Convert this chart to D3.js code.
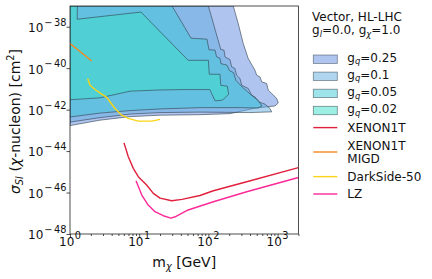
<!DOCTYPE html>
<html>
<head>
<meta charset="utf-8">
<script src="https://cdn.jsdelivr.net/npm/d3@7"></script>
<style>
  body { margin: 0; background: #fff; }
  svg { display: block; font-family: "DejaVu Sans", sans-serif; }
</style>
</head>
<body>
<div id="wrapper"></div>
<script>
// excluded regions, [mass GeV, sigma cm^2], traced clockwise
const gq025 = [[1, 1e-37], [229, 1e-37], [270, 1.43e-38], [319, 1.55e-39], [377, 2.9e-40],
  [471, 8.0e-41], [499, 4.6e-41], [557, 3.8e-41], [589, 2.2e-41], [695, 1.83e-41],
  [734, 8.7e-42], [822, 6.0e-42], [971, 3.5e-42], [1024, 2.1e-42], [917, 1.5e-42],
  [471, 1.18e-42], [205, 6.4e-43], [75.6, 5.7e-43], [20, 5.4e-43], [7.4, 4.6e-43],
  [2.7, 3.1e-43], [1, 1.7e-43]];
const gq01 = [[1, 1e-37], [100, 1e-37], [120, 1.18e-38], [151, 8.0e-40], [168, 7.4e-40],
  [174, 3.5e-40], [205, 2.6e-40], [217, 1.16e-40], [242, 9.7e-41], [256, 4.6e-41],
  [286, 3.2e-41], [303, 1.5e-41], [377, 1.05e-41], [423, 5.0e-42], [471, 4.1e-42],
  [526, 2.4e-42], [658, 1.84e-42], [777, 1.14e-42], [822, 7.8e-43], [399, 7.2e-43],
  [75.6, 7.6e-43], [20, 7.2e-43], [7.4, 6.1e-43], [2.7, 4.1e-43], [1, 2.5e-43]];
const gq005 = [[1, 1e-37], [29.8, 1e-37], [44.4, 1.06e-38], [56, 2.8e-39], [95.5, 2.5e-39],
  [102, 7.8e-40], [125, 7.4e-40], [131, 3.6e-40], [147, 3.0e-40], [152, 1.65e-40],
  [186, 1.4e-40], [202, 7.6e-41], [231, 6.1e-41], [250, 2.6e-41], [311, 1.2e-41],
  [434, 4.5e-42], [521, 2.9e-42], [595, 1.5e-42], [521, 1.2e-42], [286, 1.25e-42],
  [75.6, 1.25e-42], [20, 1.08e-42], [7.4, 9e-43], [2.7, 6.8e-43], [1, 4.4e-43]];
const gq002 = [[1, 1e-37], [1.28, 1e-37], [1.27, 2.3e-38], [10.6, 5.1e-38], [51, 2.4e-40],
  [100, 2.4e-40], [103, 5.1e-41], [147, 5.1e-41], [151, 1.5e-41], [188, 1.35e-41],
  [196, 5.6e-42], [161, 2.9e-42], [125, 2.65e-42], [105, 9.3e-42], [46, 9.3e-42],
  [20, 8.9e-42], [7.4, 7.8e-42], [2.7, 3.7e-42], [1, 3.0e-42]];

// direct detection limits
const xenonMass = [6.03, 6.96, 8.22, 9.7, 12.8, 16, 20, 29.5, 41.5, 75.6, 118, 358, 2000];
const xenonSigma = [2.5e-44, 5.3e-45, 1.47e-45, 5.8e-46, 2.3e-46, 9.1e-47, 5.4e-47, 4.0e-47,
  4.7e-47, 7.2e-47, 1.22e-46, 3.3e-46, 1.6e-45];
const migdMass = [1, 1.44, 2.06];
const migdSigma = [1.55e-39, 5.9e-40, 2.2e-40];
const darksideMass = [1.8, 1.95, 2.3, 2.87, 3.39, 3.78, 4.47, 5.59, 6.96, 9.7, 15.2, 20];
const darksideSigma = [3.2e-41, 1.5e-41, 9.4e-42, 5.6e-42, 3.9e-42, 2.4e-42, 1.14e-42,
  5.4e-43, 3.8e-43, 2.8e-43, 2.8e-43, 3.4e-43];
const lzMass = [9.0, 10.9, 13.5, 16.9, 22.3, 28.8, 34, 51, 118, 358, 2000];
const lzSigma = [3.7e-46, 7.6e-47, 2.5e-47, 1.19e-47, 7.6e-48, 5.8e-48, 7.0e-48, 1.44e-47,
  3.6e-47, 1.09e-46, 5.3e-46];

const xTicks = [1, 10, 100, 1000];
const xTickExp = ["0", "1", "2", "3"];
const yTicks = [1e-48, 1e-46, 1e-44, 1e-42, 1e-40, 1e-38];
const yTickExp = ["−48", "−46", "−44", "−42", "−40", "−38"];

//* Step 1. Dimensions
let dimensions = {
  width: 432,
  height: 279,
  margin: { top: 6, right: 133.6, bottom: 45, left: 70 },
};
dimensions.boundedWidth = dimensions.width - dimensions.margin.left - dimensions.margin.right;
dimensions.boundedHeight = dimensions.height - dimensions.margin.top - dimensions.margin.bottom;

//* Step 2. Canvas
const wrapper = d3.select("#wrapper").append("svg")
  .attr("width", dimensions.width)
  .attr("height", dimensions.height);

const bounds = wrapper.append("g")
  .attr("transform", `translate(${dimensions.margin.left},${dimensions.margin.top})`);

bounds.append("clipPath").attr("id", "clip")
  .append("rect")
  .attr("width", dimensions.boundedWidth)
  .attr("height", dimensions.boundedHeight);

//* Step 3. Scales
const xScale = d3.scaleLog().domain([1, 2000]).range([0, dimensions.boundedWidth]);
const yScale = d3.scaleLog().domain([1e-48, 1e-37]).range([dimensions.boundedHeight, 0]);

//* Step 4. Regions
const regions = [
  { label: "0.25", pts: gq025, fill: "#6189e1" },
  { label: "0.1", pts: gq01, fill: "#60ace0" },
  { label: "0.05", pts: gq005, fill: "#40c8d8" },
  { label: "0.02", pts: gq002, fill: "#3ce0c8" },
];
const edge = "#2f3f4a";

const areaLine = d3.line().x((d) => xScale(d[0])).y((d) => yScale(d[1]));

const plot = bounds.append("g").attr("clip-path", "url(#clip)");

plot.selectAll(".region")
  .data(regions)
  .join("path")
  .attr("class", "region")
  .attr("d", (d) => areaLine(d.pts) + "Z")
  .attr("fill", (d) => d.fill)
  .attr("fill-opacity", 0.5)
  .attr("stroke", edge)
  .attr("stroke-opacity", 0.75)
  .attr("stroke-width", 0.8);

//* Step 5. Limit curves
const curves = [
  { label: ["XENON1T"], m: xenonMass, s: xenonSigma, color: "#e0203c" },
  { label: ["XENON1T", "MIGD"], m: migdMass, s: migdSigma, color: "#f5891f" },
  { label: ["DarkSide-50"], m: darksideMass, s: darksideSigma, color: "#f9d316" },
  { label: ["LZ"], m: lzMass, s: lzSigma, color: "#fb2a98" },
];
const curveLine = d3.line().x((d) => xScale(d[0])).y((d) => yScale(d[1]));

plot.selectAll(".limit")
  .data(curves)
  .join("path")
  .attr("class", "limit")
  .attr("d", (d) => curveLine(d.m.map((m, i) => [m, d.s[i]])))
  .attr("fill", "none")
  .attr("stroke", (d) => d.color)
  .attr("stroke-width", 1.4)
  .attr("stroke-linejoin", "round");

//* Step 6. Axes
const minorX = [];
[1, 10, 100, 1000].forEach((dec) => {
  for (let k = 2; k <= 9; k++) if (dec * k <= 2000) minorX.push(dec * k);
});

const xAxis = bounds.append("g")
  .attr("transform", `translate(0,${dimensions.boundedHeight})`)
  .call(d3.axisBottom(xScale).tickValues(xTicks).tickSize(3.5).tickFormat(() => ""));
bounds.append("g")
  .attr("transform", `translate(0,${dimensions.boundedHeight})`)
  .call(d3.axisBottom(xScale).tickValues(minorX).tickSize(2).tickFormat(() => ""))
  .call((g) => g.select(".domain").remove());

const yAxis = bounds.append("g")
  .call(d3.axisLeft(yScale).tickValues(yTicks).tickSize(3.5).tickFormat(() => ""));

[xAxis, yAxis].forEach((ax) => ax.select(".domain").remove());
bounds.selectAll(".tick line").attr("stroke", "#222").attr("stroke-width", 0.8);

bounds.append("rect")
  .attr("width", dimensions.boundedWidth)
  .attr("height", dimensions.boundedHeight)
  .attr("fill", "none")
  .attr("stroke", "#222")
  .attr("stroke-width", 0.8);

// "10" with a mathtext-like superscript
function powLabel(sel, exp) {
  sel.append("tspan").text("10");
  if (exp.startsWith("−")) {
    sel.append("tspan").attr("dx", 1).attr("dy", -6.5).attr("font-size", 9.8).text("−");
    sel.append("tspan").attr("dx", 1.5).attr("font-size", 9.8).text(exp.slice(1));
  } else {
    sel.append("tspan").attr("dx", 0.5).attr("dy", -6.5).attr("font-size", 9.8).text(exp);
  }
}

xTicks.forEach((v, i) => {
  const t = bounds.append("text")
    .attr("x", xScale(v))
    .attr("y", dimensions.boundedHeight + 11.7)
    .attr("text-anchor", "middle")
    .attr("font-size", 12)
    .attr("fill", "#111");
  powLabel(t, xTickExp[i]);
});

yTicks.forEach((v, i) => {
  const t = bounds.append("text")
    .attr("x", -3.5)
    .attr("y", yScale(v) + 5.4)
    .attr("text-anchor", "end")
    .attr("font-size", 12)
    .attr("fill", "#111");
  powLabel(t, yTickExp[i]);
});

// axis labels
const xLabel = wrapper.append("text")
  .attr("x", dimensions.margin.left + dimensions.boundedWidth / 2)
  .attr("y", 266.7)
  .attr("text-anchor", "middle")
  .attr("font-size", 14)
  .attr("fill", "#111");
xLabel.append("tspan").text("m");
xLabel.append("tspan").attr("dy", 3).attr("font-size", 9.8).attr("font-style", "italic").text("χ");
xLabel.append("tspan").attr("dy", -3).text(" [GeV]");

const yLabel = wrapper.append("text")
  .attr("transform", "translate(19.5,121.5) rotate(-90)")
  .attr("text-anchor", "middle")
  .attr("font-size", 14)
  .attr("fill", "#111");
yLabel.append("tspan").attr("font-style", "italic").text("σ");
yLabel.append("tspan").attr("dy", 3).attr("font-size", 9.8).attr("font-style", "italic").text("SI");
yLabel.append("tspan").attr("dy", -3).text(" (");
yLabel.append("tspan").attr("font-style", "italic").text("χ");
yLabel.append("tspan").text("-nucleon) [cm");
yLabel.append("tspan").attr("dy", -5.5).attr("font-size", 9.8).text("2");
yLabel.append("tspan").attr("dy", 5.5).text("]");

//* Step 7. Legend
const legend = wrapper.append("g").attr("font-size", 12).attr("fill", "#111");
const lx = 312;

legend.append("text").attr("x", lx).attr("y", 20.7).text("Vector, HL-LHC");
const t2 = legend.append("text").attr("x", lx).attr("y", 34.3);
t2.append("tspan").text("g");
t2.append("tspan").attr("dy", 2.5).attr("font-size", 8.4).attr("font-style", "italic").text("l");
t2.append("tspan").attr("dy", -2.5).text("=0.0, g");
t2.append("tspan").attr("dy", 2.5).attr("font-size", 8.4).attr("font-style", "italic").text("χ");
t2.append("tspan").attr("dy", -2.5).text("=1.0");

const regionRows = [59.2, 76.3, 93.4, 110.5];
regions.forEach((r, i) => {
  const cy = regionRows[i];
  legend.append("rect")
    .attr("x", lx + 1.3).attr("y", cy - 4.2)
    .attr("width", 24).attr("height", 8.4)
    .attr("fill", r.fill).attr("fill-opacity", 0.5)
    .attr("stroke", edge).attr("stroke-opacity", 0.6).attr("stroke-width", 0.8);
  const t = legend.append("text").attr("x", 347.3).attr("y", cy + 2.6);
  t.append("tspan").text("g");
  t.append("tspan").attr("dy", 2.5).attr("font-size", 8.4).attr("font-style", "italic").text("q");
  t.append("tspan").attr("dy", -2.5).text("=" + r.label);
});

const curveRows = [127.6, 152, 176.6, 194];
curves.forEach((c, i) => {
  const cy = curveRows[i];
  legend.append("line")
    .attr("x1", lx + 1.3).attr("x2", lx + 25.3)
    .attr("y1", cy).attr("y2", cy)
    .attr("stroke", c.color).attr("stroke-width", 1.4);
  const off = (c.label.length - 1) * 6.7;
  c.label.forEach((txt, j) => {
    legend.append("text")
      .attr("x", 347.3)
      .attr("y", cy - off + j * 13.4 + 4.3)
      .text(txt);
  });
});
</script>
</body>
</html>
